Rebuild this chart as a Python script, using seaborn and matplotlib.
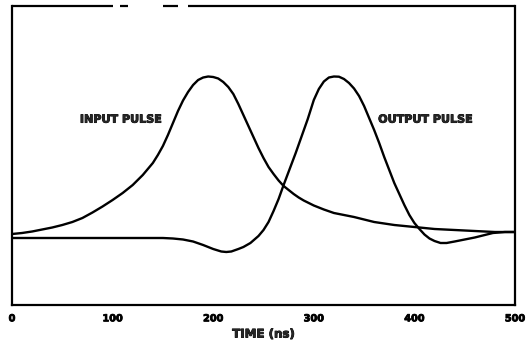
import matplotlib
matplotlib.use("Agg")
import matplotlib.pyplot as plt
import matplotlib.patheffects as pe
import seaborn as sns
import pandas as pd

# Input pulse: time (ns) and amplitude (arbitrary units)
in_time_ns = [0, 10, 20, 30, 40, 50, 60, 70, 80, 90, 100, 110, 120, 130, 140,
              145, 150, 155, 160, 165, 170, 175, 180, 185, 190, 195, 200, 205, 210,
              215, 220, 225, 230, 235, 240, 245, 250, 255, 260, 265, 270, 275, 280,
              285, 290, 295, 300, 310, 320, 330, 340, 350, 360, 370, 380, 390, 400,
              410, 420, 430, 440, 450, 460, 470, 480, 490, 500]
input_pulse = [71, 72, 73.5, 75.5, 77.5, 80, 83, 87, 92.5, 98.5, 105, 112, 120, 130, 142,
               150, 159, 170, 182, 194, 204.5, 213, 220, 225, 227.5, 228.5, 228, 226.5, 223,
               218, 211, 201, 190, 179, 168, 157, 147, 138, 131, 124.5, 119, 115, 111,
               107.5, 104.5, 102, 99.5, 95.5, 92, 90, 88, 85.5, 83, 81.5, 80, 79, 78,
               77, 76, 75.5, 75, 74.5, 74, 73.5, 73, 73, 73]

# Output pulse: time (ns) and amplitude (arbitrary units)
out_time_ns = [0, 25, 50, 75, 100, 125, 150, 160, 170, 180, 190, 200, 208, 213, 218,
               225, 230, 237, 245, 250, 255, 260, 265, 270, 276, 282, 288, 294, 300,
               305, 310, 315, 320, 325, 330, 335, 340, 345, 350, 355, 360, 365, 370,
               375, 380, 385, 390, 395, 400, 405, 410, 415, 420, 426, 432, 440, 450,
               460, 470, 478, 490, 500]
output_pulse = [67, 67, 67, 67, 67, 67, 67, 66.5, 65.5, 63.5, 60, 56, 53.5, 53, 53.5,
                56, 58, 62, 69, 75, 83, 94, 106, 120, 136, 152, 169, 186, 205,
                216, 223.5, 227.5, 228.5, 228.3, 226, 222, 216.5, 209, 199, 187, 175, 162, 148,
                135, 122, 111, 100, 90, 82, 76, 70.5, 66.5, 64, 62, 62, 63.5, 65.5,
                67.5, 70, 72, 73, 73]

x_ticks = [0, 100, 200, 300, 400, 500]
x_tick_labels = ["0", "100", "200", "300", "400", "500"]

sns.set_theme(style="white")
plt.rcParams["font.family"] = ["DejaVu Sans"]

fig = plt.figure(figsize=(5.29, 3.41), dpi=100)
ax = fig.add_axes([12 / 529, 36 / 341, 503 / 529, 299 / 341])

df_in = pd.DataFrame({"t": in_time_ns, "v": input_pulse})
df_out = pd.DataFrame({"t": out_time_ns, "v": output_pulse})
sns.lineplot(data=df_in, x="t", y="v", ax=ax, color="black", linewidth=1.7,
             estimator=None, sort=False)
sns.lineplot(data=df_out, x="t", y="v", ax=ax, color="black", linewidth=1.7,
             estimator=None, sort=False)

ax.set_xlim(0, 500)
ax.set_ylim(0, 299)
ax.set_yticks([])
ax.set_xticks(x_ticks)
ax.set_xticklabels(x_tick_labels, fontsize=7, fontweight="bold")
ax.tick_params(axis="x", direction="in", length=5, width=1.3, pad=6,
               color="black", labelcolor="black")
for tick, val in zip(ax.xaxis.get_major_ticks(), x_ticks):
    if val not in (100, 300):
        tick.tick1line.set_visible(False)
    tick.tick2line.set_visible(False)

thick = [pe.withStroke(linewidth=0.6, foreground="black")]
for lbl in ax.get_xticklabels():
    lbl.set_path_effects(thick)

ax.set_xlabel("TIME (ns)", fontsize=8.5, fontweight="bold", labelpad=3,
              path_effects=thick)
ax.set_ylabel("")

for side in ("left", "right", "bottom"):
    ax.spines[side].set_visible(True)
    ax.spines[side].set_color("black")
    ax.spines[side].set_linewidth(1.6)
ax.spines["top"].set_visible(False)
# Top border drawn in pieces (broken frame line)
for x0, x1 in [(0.0, 0.2), (0.215, 0.23), (0.3, 0.33), (0.35, 1.0)]:
    ax.plot([x0, x1], [1, 1], transform=ax.transAxes, color="black",
            linewidth=1.6, clip_on=False, solid_capstyle="butt")

ax.text(0.135, 0.62, "INPUT PULSE", transform=ax.transAxes, fontsize=8,
        fontweight="bold", va="center", ha="left", path_effects=thick)
ax.text(0.728, 0.62, "OUTPUT PULSE", transform=ax.transAxes, fontsize=8,
        fontweight="bold", va="center", ha="left", path_effects=thick)

fig.savefig("out.png", dpi=100)
